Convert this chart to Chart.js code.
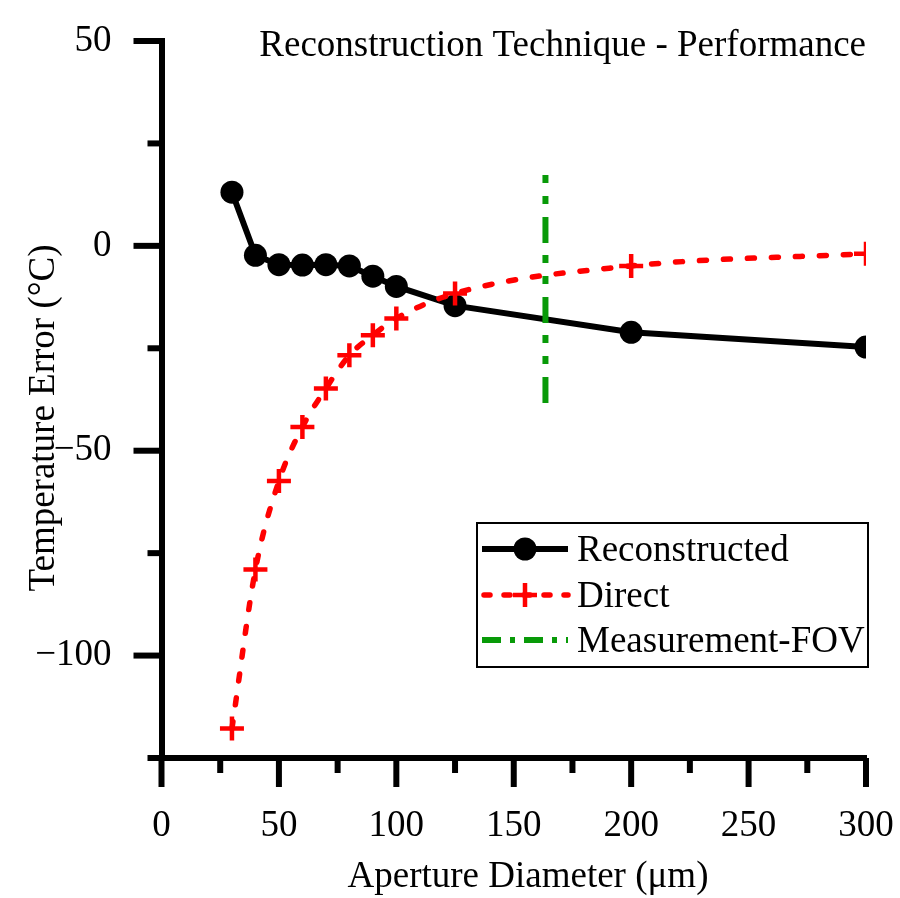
<!DOCTYPE html>
<html>
<head>
<meta charset="utf-8">
<script src="https://cdn.jsdelivr.net/npm/chart.js@4"></script>
<style>
  html, body { margin: 0; padding: 0; background: #fff; }
  canvas { display: block; }
</style>
</head>
<body>
<canvas id="perfChart" width="900" height="898"></canvas>
<script>
// aperture diameters (um) and temperature errors (degC)
let apertures = [30, 40, 50, 60, 70, 80, 90, 100, 125, 200, 300];
let reconstructed = [13.1, -2.3, -4.6, -4.7, -4.6, -4.9, -7.4, -9.9, -14.6, -21.1, -24.7];
let direct = [-117.8, -79.0, -57.4, -44.2, -34.8, -26.7, -21.8, -17.7, -11.6, -4.9, -1.9];
// field of view marker: x position and vertical extent
let fovX = 163.5;
let fovY = [17.3, -38.4];

let xTicks = [0, 50, 100, 150, 200, 250, 300];
let yTicks = [50, 0, -50, -100];

const FONT = "'Liberation Serif', 'Times New Roman', serif";
const GREEN = '#089a08';

function toPoints(xs, ys) {
    let pts = [];
    for (let i = 0; i < xs.length; i++) {
        pts.push({ x: xs[i], y: ys[i] });
    }
    return pts;
}

function fmt(v) {
    return v < 0 ? '\u2212' + Math.abs(v) : String(v);
}

// short and long tick marks pointing out of the plot
const tickMarks = {
    id: 'tickMarks',
    afterDraw(chart) {
        const ctx = chart.ctx;
        const xs = chart.scales.x, ys = chart.scales.y;
        const area = chart.chartArea;
        ctx.save();
        ctx.strokeStyle = '#000';
        ctx.lineWidth = 6;
        ctx.lineCap = 'butt';
        xs.ticks.forEach(t => {
            let px = xs.getPixelForValue(t.value);
            let len = xTicks.includes(t.value) ? 29 : 15;
            ctx.beginPath();
            ctx.moveTo(px, area.bottom);
            ctx.lineTo(px, area.bottom + len);
            ctx.stroke();
        });
        ys.ticks.forEach(t => {
            let py = ys.getPixelForValue(t.value);
            let len = yTicks.includes(t.value) ? 28 : 14;
            ctx.beginPath();
            ctx.moveTo(area.left, py);
            ctx.lineTo(area.left - len, py);
            ctx.stroke();
        });
        ctx.restore();
    }
};

// title, axis titles and the framed legend
const labels = {
    id: 'labels',
    afterDraw(chart) {
        const ctx = chart.ctx;
        const area = chart.chartArea;
        ctx.save();
        ctx.fillStyle = '#000';
        ctx.font = '37px ' + FONT;

        ctx.textAlign = 'right';
        ctx.textBaseline = 'alphabetic';
        ctx.fillText('Reconstruction Technique - Performance', area.right, 56);

        ctx.textAlign = 'center';
        ctx.fillText('Aperture Diameter (\u03bcm)', 528, 887);

        ctx.save();
        ctx.translate(54, 418);
        ctx.rotate(-Math.PI / 2);
        ctx.textBaseline = 'alphabetic';
        ctx.fillText('Temperature Error (\u00b0C)', 0, 0);
        ctx.restore();

        // legend box
        const bx = 477, by = 523, bw = 391, bh = 144;
        ctx.lineWidth = 2;
        ctx.strokeStyle = '#000';
        ctx.strokeRect(bx, by, bw, bh);

        const rows = [549, 595, 640];
        const x0 = 482, x1 = 568, xm = 525;
        const sets = chart.data.datasets;
        ctx.textAlign = 'left';
        rows.forEach((ry, i) => {
            const ds = sets[i];
            ctx.save();
            ctx.strokeStyle = ds.borderColor;
            ctx.lineWidth = ds.borderWidth;
            ctx.lineCap = i == 1 ? 'round' : 'butt';
            ctx.setLineDash(i == 0 ? [] : (i == 1 ? [6, 14] : [19, 9, 5, 9]));
            ctx.lineDashOffset = i == 1 ? -2 : 0;
            ctx.beginPath();
            ctx.moveTo(x0, ry);
            ctx.lineTo(x1, ry);
            ctx.stroke();
            ctx.setLineDash([]);
            if (i == 0) {
                ctx.fillStyle = '#000';
                ctx.beginPath();
                ctx.arc(xm, ry, 11.5, 0, Math.PI * 2);
                ctx.fill();
            } else if (i == 1) {
                ctx.lineWidth = 4.5;
                ctx.lineCap = 'butt';
                ctx.beginPath();
                ctx.moveTo(xm - 12, ry);
                ctx.lineTo(xm + 12, ry);
                ctx.moveTo(xm, ry - 12);
                ctx.lineTo(xm, ry + 12);
                ctx.stroke();
            }
            ctx.restore();
            ctx.fillText(ds.label, 577, ry + 12);
        });
        ctx.restore();
    }
};

const plotData = {
    datasets: [{
        label: 'Reconstructed',
        data: toPoints(apertures, reconstructed),
        borderColor: '#000',
        backgroundColor: '#000',
        borderWidth: 6,
        pointStyle: 'circle',
        pointRadius: 11.5,
        pointBorderWidth: 0,
        tension: 0,
        order: 2,
        clip: { left: 30, top: 30, right: 0, bottom: 30 }
    }, {
        label: 'Direct',
        data: toPoints(apertures, direct),
        borderColor: '#ff0000',
        backgroundColor: '#ff0000',
        borderWidth: 5.5,
        borderDash: [7, 17],
        borderCapStyle: 'round',
        pointStyle: 'cross',
        pointRadius: 12,
        pointBorderWidth: 4.5,
        cubicInterpolationMode: 'monotone',
        order: 1,
        clip: { left: 30, top: 30, right: 0, bottom: 30 }
    }, {
        label: 'Measurement-FOV',
        data: [{ x: fovX, y: fovY[0] }, { x: fovX, y: fovY[1] }],
        borderColor: GREEN,
        backgroundColor: GREEN,
        borderWidth: 6,
        borderDash: [26, 12, 8, 13, 8, 13],
        borderDashOffset: 38,
        pointRadius: 0,
        order: 0
    }]
};

const plotConfig = {
    type: 'line',
    data: plotData,
    options: {
        responsive: false,
        animation: false,
        layout: { padding: { left: 0, top: 41, right: 34, bottom: 0 } },
        plugins: {
            legend: { display: false },
            tooltip: { enabled: false }
        },
        scales: {
            x: {
                type: 'linear',
                min: 0,
                max: 300,
                grid: { display: false, drawTicks: false },
                border: { display: true, color: '#000', width: 6 },
                ticks: {
                    stepSize: 25,
                    autoSkip: false,
                    maxRotation: 0,
                    padding: 46,
                    color: '#000',
                    font: { family: FONT, size: 37 },
                    callback: v => xTicks.includes(v) ? fmt(v) : ''
                },
                afterFit: s => {
                    s.height = 140;
                    s.paddingLeft = 0;
                    s.paddingRight = 0;
                }
            },
            y: {
                type: 'linear',
                min: -125,
                max: 50,
                grid: { display: false, drawTicks: false },
                border: { display: true, color: '#000', width: 6 },
                ticks: {
                    stepSize: 25,
                    autoSkip: false,
                    padding: 50,
                    color: '#000',
                    font: { family: FONT, size: 37 },
                    callback: v => yTicks.includes(v) ? fmt(v) : ''
                },
                afterFit: s => {
                    s.width = 161.5;
                    s.paddingTop = 0;
                    s.paddingBottom = 0;
                }
            }
        }
    },
    plugins: [tickMarks, labels]
};

var perfChart = new Chart(document.querySelector('#perfChart'), plotConfig);
</script>
</body>
</html>
